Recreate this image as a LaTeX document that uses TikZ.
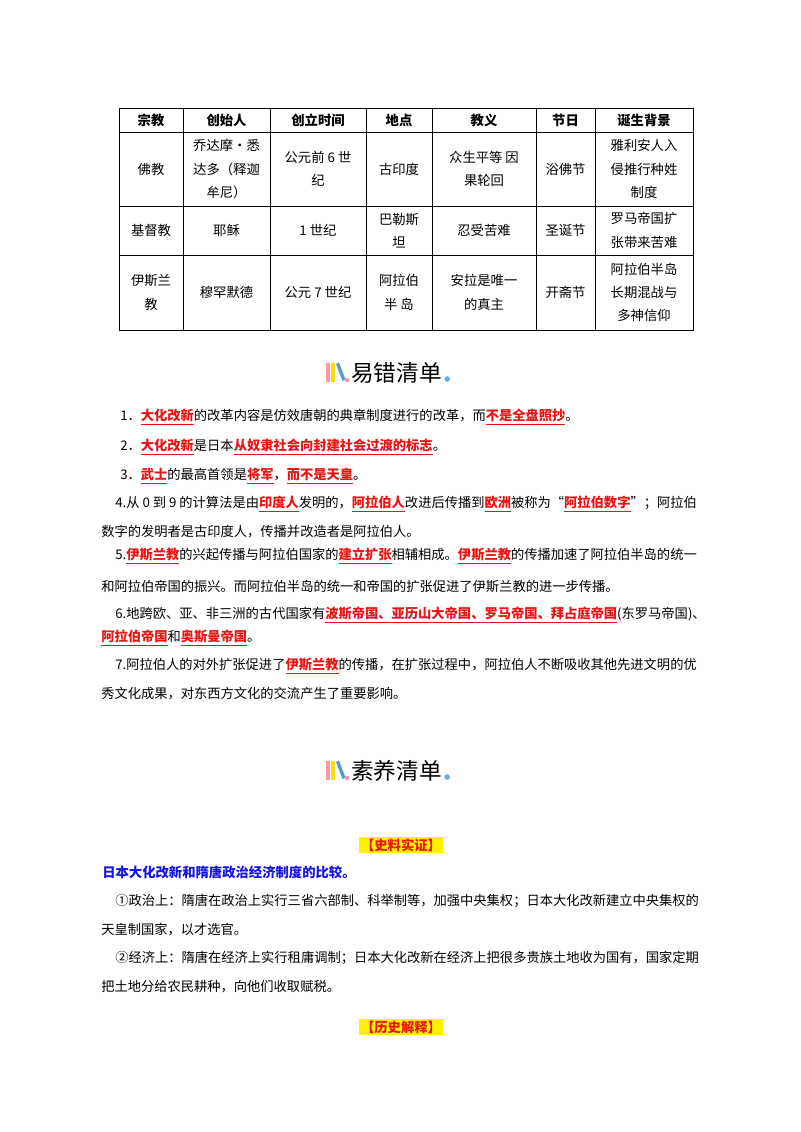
\documentclass[tikz,border=0pt]{standalone}
\usepackage{fontspec}
\setmainfont{Noto Sans CJK SC}
\usepackage{xcolor}
\usetikzlibrary{positioning}
\definecolor{hlred}{RGB}{235,20,20}
\definecolor{tagyel}{RGB}{255,240,0}
\definecolor{headblue}{RGB}{20,20,230}
\newcommand{\hl}[1]{\textcolor{hlred}{\bfseries\underline{#1}}}
\newcommand{\bookicon}[1]{%
  \fill[pink!80!red] (#1) ++(0,-10) rectangle ++(4,19);
  \fill[yellow!80!orange] (#1) ++(5,-10) rectangle ++(4,19);
  \fill[cyan!60!blue!70] (#1) ++(10,-9) -- ++(3,-1.5) -- ++(6.5,17) -- ++(-3,1.5) -- cycle;
  \fill[pink!80!red] (#1) ++(21,7) circle (2.2);}
\begin{document}
\begin{tikzpicture}[x=0.75pt,y=-0.75pt,
  cell/.style={align=center, font=\fontsize{10}{17.5}\selectfont, inner sep=0pt},
  hdr/.style={cell, font=\fontsize{10}{17.5}\selectfont\bfseries},
  txtline/.style={anchor=west, inner sep=0pt, font=\fontsize{9.95}{12}\selectfont},
  tag/.style={fill=tagyel, inner sep=1.5pt, font=\fontsize{10}{12}\selectfont\bfseries, text=hlred},
  title/.style={anchor=west, inner sep=0pt, font=\fontsize{17}{20}\selectfont}
]
\useasboundingbox (0,0) rectangle (800,1132);

% Table grid
\draw[line width=0.6pt] (119,108) rectangle (693,330);
\foreach \x in {183,270,366,432,536,595}
  \draw[line width=0.6pt] (\x,108) -- (\x,330);
\foreach \y in {132,206,255}
  \draw[line width=0.6pt] (119,\y) -- (693,\y);

% header row
\node[hdr] (h1) at (151,120) {宗教};
\node[hdr] (h2) at (226.5,120) {创始人};
\node[hdr] (h3) at (318,120) {创立时间};
\node[hdr] (h4) at (399,120) {地点};
\node[hdr] (h5) at (484,120) {教义};
\node[hdr] (h6) at (565.5,120) {节日};
\node[hdr] (h7) at (644,120) {诞生背景};

% row 1
\node[cell] (a1) at (151,169) {佛教};
\node[cell] (a2) at (226.5,169) {乔达摩·悉\\达多（释迦\\牟尼）};
\node[cell] (a3) at (318,169) {公元前 6 世\\纪};
\node[cell] (a4) at (399,169) {古印度};
\node[cell] (a5) at (484,169) {众生平等 因\\果轮回};
\node[cell] (a6) at (565.5,169) {浴佛节};
\node[cell] (a7) at (644,169) {雅利安人入\\侵推行种姓\\制度};

% row 2
\node[cell] (b1) at (151,230.5) {基督教};
\node[cell] (b2) at (226.5,230.5) {耶稣};
\node[cell] (b3) at (318,230.5) {1 世纪};
\node[cell] (b4) at (399,230.5) {巴勒斯\\坦};
\node[cell] (b5) at (484,230.5) {忍受苦难};
\node[cell] (b6) at (565.5,230.5) {圣诞节};
\node[cell] (b7) at (644,230.5) {罗马帝国扩\\张带来苦难};

% row 3
\node[cell] (c1) at (151,292.5) {伊斯兰\\教};
\node[cell] (c2) at (226.5,292.5) {穆罕默德};
\node[cell] (c3) at (318,292.5) {公元 7 世纪};
\node[cell] (c4) at (399,292.5) {阿拉伯\\半 岛};
\node[cell] (c5) at (484,292.5) {安拉是唯一\\的真主};
\node[cell] (c6) at (565.5,292.5) {开斋节};
\node[cell] (c7) at (644,292.5) {阿拉伯半岛\\长期混战与\\多神信仰};

% heading 1
\bookicon{326,373}
\node[title] (t1) at (351,373) {易错清单};
\fill[cyan!70!blue!60] (t1.east) ++(5,6) circle (2.8);

\node[txtline] (l1) at (120,417) {1．\hl{大化改新}的改革内容是仿效唐朝的典章制度进行的改革，而\hl{不是全盘照抄}。};
\node[txtline] (l2) at (120,447) {2．\hl{大化改新}是日本\hl{从奴隶社会向封建社会过渡的标志}。};
\node[txtline] (l3) at (120,476) {3．\hl{武士}的最高首领是\hl{将军}，\hl{而不是天皇}。};
\node[txtline] (l4) at (115,504) {4.从 0 到 9 的计算法是由\hl{印度人}发明的，\hl{阿拉伯人}改进后传播到\hl{欧洲}被称为“\hl{阿拉伯数字}”；阿拉伯};
\node[txtline] (l4b) at (101,532) {数字的发明者是古印度人，传播并改造者是阿拉伯人。};
\node[txtline] (l5) at (115,556) {5.\hl{伊斯兰教}的兴起传播与阿拉伯国家的\hl{建立扩张}相辅相成。\hl{伊斯兰教}的传播加速了阿拉伯半岛的统一};
\node[txtline] (l5b) at (101,587) {和阿拉伯帝国的振兴。而阿拉伯半岛的统一和帝国的扩张促进了伊斯兰教的进一步传播。};
\node[txtline] (l6) at (115,615) {6.地跨欧、亚、非三洲的古代国家有\hl{波斯帝国、亚历山大帝国、罗马帝国、拜占庭帝国}(东罗马帝国)、};
\node[txtline] (l6b) at (101,638) {\hl{阿拉伯帝国}和\hl{奥斯曼帝国}。};
\node[txtline] (l7) at (115,666) {7.阿拉伯人的对外扩张促进了\hl{伊斯兰教}的传播，在扩张过程中，阿拉伯人不断吸收其他先进文明的优};
\node[txtline] (l7b) at (101,694) {秀文化成果，对东西方文化的交流产生了重要影响。};

% heading 2
\bookicon{326,771}
\node[title] (t2) at (351,771) {素养清单};
\fill[cyan!70!blue!60] (t2.east) ++(5,6) circle (2.8);

\node[tag] (tag1) at (401,845) {【史料实证】};
\node[txtline, text=headblue, font=\fontsize{10}{12}\selectfont\bfseries] (q1) at (102,872) {日本大化改新和隋唐政治经济制度的比较。};
\node[txtline] (p1) at (115,901) {①政治上：隋唐在政治上实行三省六部制、科举制等，加强中央集权；日本大化改新建立中央集权的};
\node[txtline] (p1b) at (101,930) {天皇制国家，以才选官。};
\node[txtline] (p2) at (115,958) {②经济上：隋唐在经济上实行租庸调制；日本大化改新在经济上把很多贵族土地收为国有，国家定期};
\node[txtline] (p2b) at (101,987) {把土地分给农民耕种，向他们收取赋税。};
\node[tag] (tag2) at (401,1027) {【历史解释】};
\end{tikzpicture}
\end{document}
